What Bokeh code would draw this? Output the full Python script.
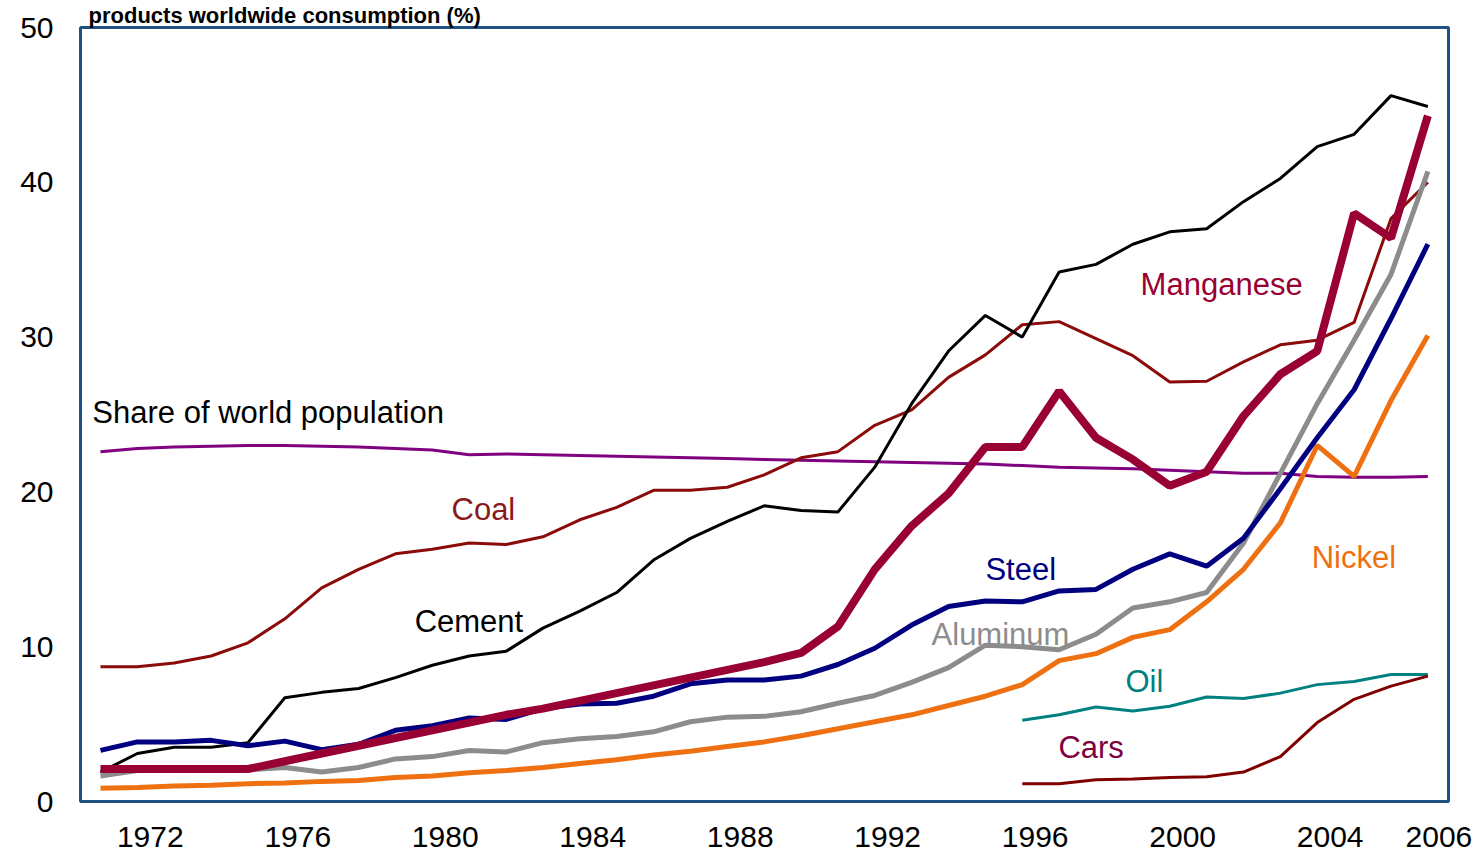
from bokeh.plotting import figure
from bokeh.models import Range1d, FixedTicker, Label, CustomJSTickFormatter
from bokeh.embed import file_html
from bokeh.resources import INLINE

# ---------------- data ----------------
years = list(range(1970, 2007))
years_late = list(range(1995, 2007))

cement = [1.9, 3.1, 3.5, 3.5, 3.8, 6.7, 7.05, 7.3, 8.0, 8.8,
          9.4, 9.7, 11.2, 12.3, 13.5, 15.6, 17.0, 18.1, 19.1, 18.8,
          18.7, 21.6, 25.7, 29.1, 31.4, 30.0, 34.2, 34.7, 36.0, 36.8,
          37.0, 38.75, 40.25, 42.3, 43.1, 45.6, 44.9]
manganese = [2.1, 2.1, 2.1, 2.1, 2.1, 2.6, 3.1, 3.6, 4.1, 4.6,
             5.1, 5.6, 6.0, 6.5, 7.0, 7.5, 8.0, 8.5, 9.0, 9.6,
             11.3, 15.0, 17.8, 19.9, 22.9, 22.9, 26.5, 23.5, 22.1, 20.4,
             21.3, 24.9, 27.6, 29.1, 38.0, 36.4, 44.3]
coal = [8.7, 8.7, 8.95, 9.4, 10.25, 11.8, 13.8, 15.0, 16.0, 16.3,
        16.7, 16.6, 17.1, 18.2, 19.0, 20.1, 20.1, 20.3, 21.1, 22.2,
        22.6, 24.3, 25.3, 27.4, 28.85, 30.8, 31.0, 29.9, 28.8, 27.1,
        27.15, 28.4, 29.5, 29.8, 30.95, 37.65, 40.0]
population = [22.6, 22.8, 22.9, 22.95, 23.0, 23.0, 22.95, 22.9, 22.8, 22.7,
              22.4, 22.45, 22.4, 22.35, 22.3, 22.25, 22.2, 22.15, 22.1, 22.05,
              22.0, 21.95, 21.9, 21.85, 21.8, 21.7, 21.6, 21.55, 21.5, 21.4,
              21.3, 21.2, 21.2, 21.0, 20.95, 20.95, 21.0]
steel = [3.3, 3.85, 3.85, 3.95, 3.6, 3.9, 3.35, 3.7, 4.6, 4.9,
         5.4, 5.3, 6.0, 6.3, 6.35, 6.8, 7.6, 7.85, 7.85, 8.1,
         8.85, 9.9, 11.4, 12.6, 12.95, 12.9, 13.6, 13.7, 15.0, 16.0,
         15.2, 17.0, 20.2, 23.5, 26.6, 31.2, 36.0]
aluminum = [1.65, 2.0, 2.05, 2.05, 2.05, 2.2, 1.9, 2.2, 2.75, 2.9,
            3.3, 3.2, 3.8, 4.05, 4.2, 4.5, 5.15, 5.45, 5.5, 5.8,
            6.35, 6.85, 7.7, 8.65, 10.1, 10.0, 9.8, 10.8, 12.5, 12.9,
            13.5, 16.7, 21.2, 25.7, 29.8, 34.05, 40.7]
nickel = [0.85, 0.9, 1.0, 1.05, 1.15, 1.2, 1.3, 1.35, 1.55, 1.65,
          1.85, 2.0, 2.2, 2.45, 2.7, 3.0, 3.25, 3.55, 3.85, 4.25,
          4.7, 5.15, 5.6, 6.2, 6.8, 7.55, 9.1, 9.55, 10.6, 11.1,
          12.9, 15.0, 18.0, 23.0, 21.0, 25.9, 30.1]
oil = [5.25, 5.6, 6.1, 5.85, 6.15, 6.75, 6.65, 7.0, 7.55, 7.75, 8.2, 8.2]
cars = [1.15, 1.15, 1.4, 1.45, 1.55, 1.6, 1.9, 2.9, 5.1, 6.6, 7.45, 8.1]

x_tick_labels = ["1972", "1976", "1980", "1984", "1988", "1992", "1996", "2000", "2004", "2006"]
y_ticks = [0, 10, 20, 30, 40, 50]
title_text = "products worldwide consumption (%)"

# ---------------- figure ----------------
FONT = "Liberation Sans"
p = figure(width=1479, height=854, output_backend="svg", toolbar_location=None,
           x_range=Range1d(1969.458, 2006.56), y_range=Range1d(0, 50),
           min_border_left=80, min_border_right=31, min_border_top=27, min_border_bottom=53)
p.title.text = title_text
p.title.text_font = FONT
p.title.text_font_size = "22px"
p.title.text_font_style = "bold"
p.title.text_color = "black"
p.title.align = "left"
p.title.offset = 8
p.title.standoff = 0
p.outline_line_color = "#1F5182"
p.outline_line_width = 3
p.grid.visible = False
p.background_fill_color = "white"
p.border_fill_color = "white"

for ax in (p.xaxis, p.yaxis):
    ax.axis_line_color = None
    ax.major_tick_line_color = None
    ax.minor_tick_line_color = None
    ax.major_label_text_font = FONT
    ax.major_label_text_font_size = "30px"
    ax.major_label_text_color = "black"

# tick label positions (labels sit slightly left of the yearly points, last one at the edge)
x_tick_pos = [int(t) - 0.65 for t in x_tick_labels[:-1]] + [int(x_tick_labels[-1]) + 0.3]
p.xaxis.ticker = FixedTicker(ticks=x_tick_pos)
p.xaxis.formatter = CustomJSTickFormatter(args=dict(pos=x_tick_pos, labels=x_tick_labels), code="""
let best = 0;
for (let i = 0; i < pos.length; i++) {
  if (Math.abs(pos[i] - tick) < Math.abs(pos[best] - tick)) best = i;
}
return labels[best];
""")
p.xaxis.major_label_standoff = 19
p.yaxis.ticker = FixedTicker(ticks=y_ticks)
p.yaxis.major_label_standoff = 21

# ---------------- lines ----------------
p.line(years, population, line_color="#800080", line_width=3)
p.line(years, coal, line_color="#8B0A0A", line_width=3)
p.line(years, cement, line_color="black", line_width=3)
p.line(years_late, oil, line_color="#008080", line_width=3)
p.line(years_late, cars, line_color="#800000", line_width=3)
p.line(years, nickel, line_color="#EE7011", line_width=5)
p.line(years, aluminum, line_color="#8C8C8C", line_width=5)
p.line(years, steel, line_color="#000080", line_width=5)
p.line(years, manganese, line_color="#990033", line_width=8)

# ---------------- labels ----------------
def lab(x, y, text, color, size="31px"):
    p.add_layout(Label(x=x, y=y, text=text, text_color=color, text_font=FONT,
                       text_font_size=size, text_align="left",
                       text_baseline="alphabetic", level="underlay"))

lab(1969.78, 25.13, "Share of world population", "black")
lab(1979.52, 18.86, "Coal", "#8B1A1A")
lab(1978.52, 11.63, "Cement", "black")
lab(1998.21, 33.40, "Manganese", "#990033")
lab(1994.0, 14.99, "Steel", "#000080")
lab(1992.54, 10.79, "Aluminum", "#8C8C8C")
lab(2002.85, 15.76, "Nickel", "#EE7011")
lab(1997.8, 7.75, "Oil", "#008080")
lab(1995.98, 3.49, "Cars", "#800040")

open("out.html", "w").write(file_html(p, INLINE, title="China share of worldwide consumption"))
